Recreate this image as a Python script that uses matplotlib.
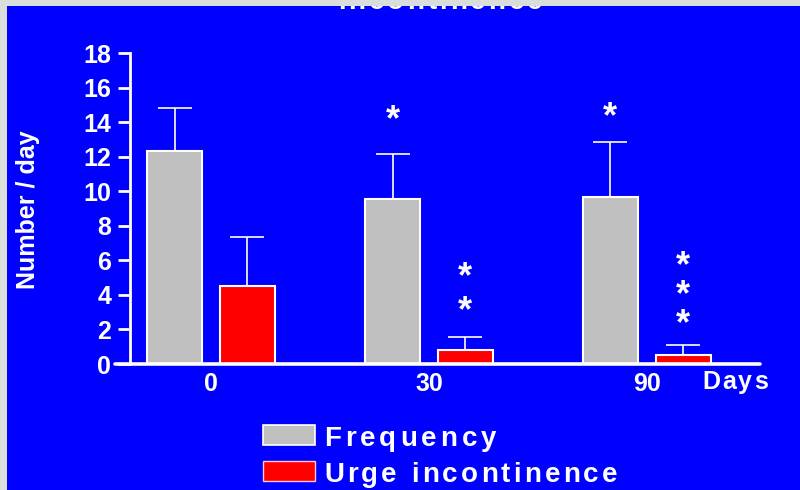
import matplotlib
matplotlib.use("Agg")
import matplotlib.pyplot as plt
from matplotlib.patches import Rectangle
import numpy as np

plt.rcParams['font.family'] = ['Liberation Sans', 'DejaVu Sans']

# mean number per day and upper SD at each visit
days = ["0", "30", "90"]
frequency = [12.3, 9.55, 9.65]
frequency_sd = [2.5, 2.6, 3.2]
urge = [4.5, 0.8, 0.5]
urge_sd = [2.85, 0.75, 0.6]
# significance stars per bar (number of stars)
freq_stars = [0, 1, 1]
urge_stars = [0, 2, 3]

BLUE = "#0000FF"
GREY = "#C0C0C0"
RED = "#FF0000"
FRAME = "#D9DDDB"

W, H = 800, 490
fig = plt.figure(figsize=(W / 100, H / 100), dpi=100, facecolor=BLUE)
renderer = fig.canvas.get_renderer()


def fx(px):
    return px / W


def fy(py):
    return (H - py) / H


def spaced_text(x, y, s, size, gap):
    """draw s letter by letter from pixel (x, y baseline) with extra gap px"""
    def width(t):
        tt = fig.text(0, 0, t, fontsize=size, fontweight='bold')
        w = tt.get_window_extent(renderer).width
        tt.remove()
        return w
    for i, ch in enumerate(s):
        if ch == " ":
            continue
        left = width(s[:i + 1]) - width(ch)
        fig.text(fx(x + left + i * gap), fy(y), ch, fontsize=size,
                 fontweight='bold', color='white', va='baseline', ha='left')


# axes: y axis at x=130px, zero at y=364px, 18 at y=53px
ax = fig.add_axes([fx(130), fy(364), fx(760) - fx(130), fy(53) - fy(364)])
ax.set_facecolor('none')
ax.set_xlim(-0.372, 2.52)
ax.set_ylim(0, 18)

x = np.arange(len(days))
bw = 0.252
off = 0.167
ax.bar(x - off, frequency, bw, color=GREY, edgecolor='white', linewidth=1.5, zorder=3)
ax.bar(x + off, urge, bw, color=RED, edgecolor='white', linewidth=1.5, zorder=3)
ax.errorbar(x - off, frequency, yerr=[np.zeros(3), frequency_sd], fmt='none',
            ecolor='white', elinewidth=1.2, capsize=12, capthick=1.2, zorder=2)
ax.errorbar(x + off, urge, yerr=[np.zeros(3), urge_sd], fmt='none',
            ecolor='white', elinewidth=1.2, capsize=12, capthick=1.2, zorder=2)

# stacked stars above the bars: (centre height, line spacing)
freq_star_pos = {1: (14.1, 1.0), 2: (14.27, 1.0)}
urge_star_pos = {1: (4.0, 0.97), 2: (3.93, 0.78)}
for i in range(3):
    if freq_stars[i]:
        yc, ls = freq_star_pos[i]
        ax.text(x[i] - off, yc, "\n".join("*" * freq_stars[i]), ha='center',
                va='center', linespacing=ls, color='white', fontsize=26,
                fontweight='bold')
    if urge_stars[i]:
        yc, ls = urge_star_pos[i]
        ax.text(x[i] + off, yc, "\n".join("*" * urge_stars[i]), ha='center',
                va='center', linespacing=ls, color='white', fontsize=26,
                fontweight='bold')

for s in ['top', 'right', 'bottom']:
    ax.spines[s].set_visible(False)
ax.spines['left'].set_color('white')
ax.spines['left'].set_linewidth(2)
ax.plot([-0.44, 2.52], [0, 0], color='white', lw=2.6, clip_on=False,
        solid_capstyle='round', zorder=4)

ax.set_yticks(np.arange(0, 19, 2))
ax.set_xticks(x)
ax.set_xticklabels(days)
ax.tick_params(axis='y', colors='white', length=8.5, width=2, pad=5, labelsize=18)
ax.tick_params(axis='x', colors='white', length=0, pad=6, labelsize=18)
for lab in ax.get_xticklabels() + ax.get_yticklabels():
    lab.set_fontweight('bold')

fig.text(fx(28), fy(210), "Number / day", rotation=90, ha='center', va='center',
         color='white', fontsize=18, fontweight='bold')
spaced_text(702, 389, "Days", 18, 2)

# legend
fig.patches.append(Rectangle((fx(263), fy(445)), fx(315) - fx(263), fy(425) - fy(445),
                             transform=fig.transFigure, facecolor=GREY, edgecolor='white', lw=1.2))
fig.patches.append(Rectangle((fx(263), fy(481)), fx(315) - fx(263), fy(461) - fy(481),
                             transform=fig.transFigure, facecolor=RED, edgecolor='#FFC8C8', lw=1.0))
spaced_text(324, 446, "Frequency", 20, 4)
spaced_text(324, 482, "Urge incontinence", 20, 3.2)

# title, mostly hidden under the frame
spaced_text(338, 9, "incontinence", 20, 3)

# grey frame on the top and left
fig.patches.append(Rectangle((0, fy(6)), 1, 1, transform=fig.transFigure,
                             facecolor=FRAME, edgecolor='none', zorder=20))
fig.patches.append(Rectangle((0, 0), fx(7), 1, transform=fig.transFigure,
                             facecolor=FRAME, edgecolor='none', zorder=20))

fig.savefig("out.png", dpi=100, facecolor=BLUE)
